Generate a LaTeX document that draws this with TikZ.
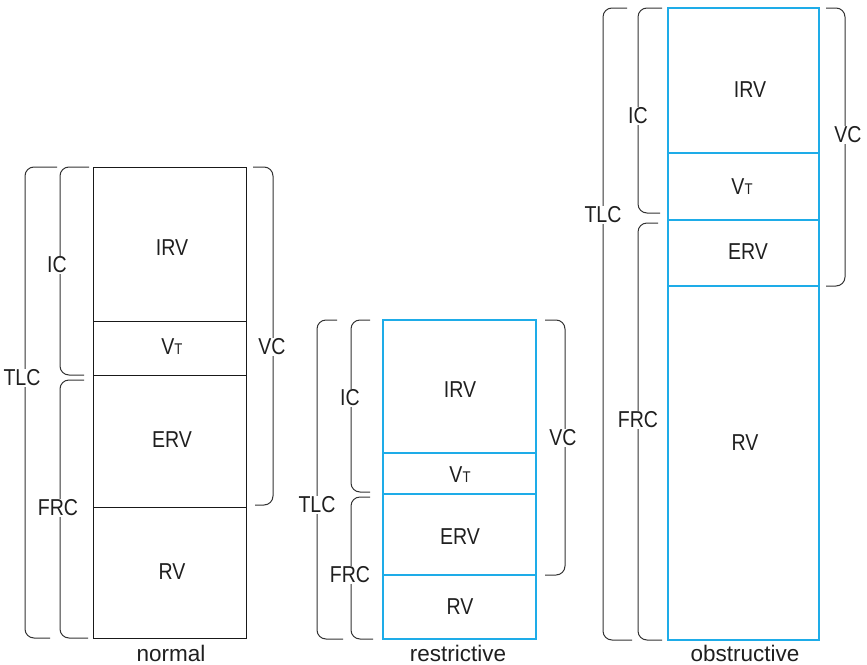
\documentclass[tikz,border=0pt]{standalone}
\usepackage{fontspec}
\setmainfont{Liberation Sans}
\newfontfamily\capfont{Liberation Sans}[FakeStretch=0.85]
\definecolor{lblue}{RGB}{30,172,232}
\definecolor{brkgray}{RGB}{50,50,50}
\tikzset{
  nbox/.style={draw=black!90,line width=1pt},
  bbox/.style={draw=lblue,line width=1.1pt},
  brk/.style={draw=brkgray,line width=1pt,rounded corners=9pt},
  lab/.style={font=\capfont\fontsize{23}{23}\selectfont,inner sep=0pt,text=black!88},
  brklab/.style={lab,fill=white,inner ysep=1pt,inner xsep=0.5pt},
  panelname/.style={font=\fontsize{22.5}{22.5}\selectfont,inner sep=0pt,text=black!88,anchor=base}
}
\newcommand{\vtlab}{V{\fontsize{15.5}{15.5}\selectfont T}}
\begin{document}
\begin{tikzpicture}[x=1pt,y=-1pt]
\useasboundingbox (0,0) rectangle (867,664);
% ---------- normal ----------
\draw[nbox] (93,167) rectangle (246,321);
\draw[nbox] (93,321) rectangle (246,375);
\draw[nbox] (93,375) rectangle (246,507);
\draw[nbox] (93,507) rectangle (246,638);
\node[lab] (nirv) at (172,248) {IRV};
\node[lab] (nvt) at (172,347) {\vtlab};
\node[lab] (nerv) at (172,440) {ERV};
\node[lab] (nrv) at (172,572) {RV};
\node[panelname] (nname) at (171,661) {normal};
\draw[brk] (89,167) -- (60,167) -- (60,375) -- (84,375);
\draw[brk] (84,380) -- (60,380) -- (60,638) -- (88,638);
\draw[brk] (57,167) -- (25,167) -- (25,638) -- (50,638);
\draw[brk] (253,167) -- (273,167) -- (273,505) -- (255,505);
\node[brklab] (nic) at (57,265) {IC};
\node[brklab] (nfrc) at (58,508) {FRC};
\node[brklab] (ntlc) at (22,378) {TLC};
\node[brklab] (nvc) at (272,347) {VC};
% ---------- restrictive ----------
\draw[bbox] (383,320) rectangle (536,453);
\draw[bbox] (383,453) rectangle (536,494);
\draw[bbox] (383,494) rectangle (536,575);
\draw[bbox] (383,575) rectangle (536,639);
\node[lab] (rirv) at (460,390) {IRV};
\node[lab] (rvt) at (460,475) {\vtlab};
\node[lab] (rerv) at (460,537) {ERV};
\node[lab] (rrv) at (460,607) {RV};
\node[panelname] (rname) at (458,661) {restrictive};
\draw[brk] (370,320) -- (351,320) -- (351,492) -- (370,492);
\draw[brk] (370,497) -- (351,497) -- (351,639) -- (373,639);
\draw[brk] (337,320) -- (317,320) -- (317,639) -- (343,639);
\draw[brk] (545,320) -- (565,320) -- (565,575) -- (545,575);
\node[brklab] (ric) at (350,398) {IC};
\node[brklab] (rfrc) at (350,575) {FRC};
\node[brklab] (rtlc) at (317,505) {TLC};
\node[brklab] (rvc) at (563,438) {VC};
% ---------- obstructive ----------
\draw[bbox] (668,8) rectangle (819,153);
\draw[bbox] (668,153) rectangle (819,220);
\draw[bbox] (668,220) rectangle (819,286);
\draw[bbox] (668,286) rectangle (819,640);
\node[lab] (oirv) at (750,90) {IRV};
\node[lab] (ovt) at (742,187) {\vtlab};
\node[lab] (oerv) at (748,252) {ERV};
\node[lab] (orv) at (745,443) {RV};
\node[panelname] (oname) at (745,661) {obstructive};
\draw[brk] (662,8) -- (638,8) -- (638,213) -- (660,213);
\draw[brk] (658,223) -- (638,223) -- (638,640) -- (662,640);
\draw[brk] (627,8) -- (603,8) -- (603,640) -- (632,640);
\draw[brk] (826,8) -- (845,8) -- (845,286) -- (826,286);
\node[brklab] (oic) at (638,116) {IC};
\node[brklab] (ofrc) at (638,420) {FRC};
\node[brklab] (otlc) at (603,215) {TLC};
\node[brklab] (ovc) at (848,135) {VC};
\end{tikzpicture}
\end{document}
